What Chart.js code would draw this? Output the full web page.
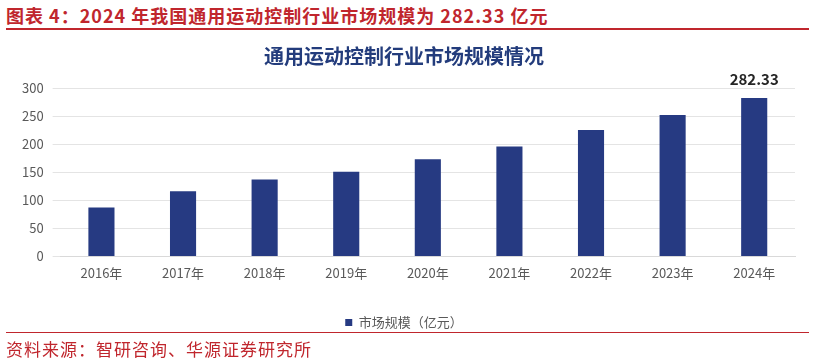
<!DOCTYPE html>
<html>
<head>
<meta charset="utf-8">
<script src="https://cdn.jsdelivr.net/npm/chart.js@4/dist/chart.umd.min.js"></script>
<style>
  html, body { margin: 0; padding: 0; background: #fff; }
  body { width: 815px; height: 361px; position: relative; overflow: hidden;
         font-family: "Noto Sans CJK SC", "Noto Sans", sans-serif; }
  #head { position: absolute; left: 6px; top: 2px; color: #c0262d; font-size: 18px;
          font-weight: bold; letter-spacing: 1px; white-space: nowrap; }
  #rule-top { position: absolute; left: 6px; right: 6px; top: 28px; height: 2px; background: #c0262d; }
  #rule-bot { position: absolute; left: 6px; right: 6px; top: 332px; height: 1px; background: #c0262d; }
  #foot { position: absolute; left: 6px; top: 336px; color: #c0262d; font-size: 17px;
          letter-spacing: 1px; white-space: nowrap; }
  #wrap { position: absolute; left: 0; top: 32px; width: 815px; height: 307px; }
</style>
</head>
<body>
<div id="head">图表 4：2024 年我国通用运动控制行业市场规模为 282.33 亿元</div>
<div id="rule-top"></div>
<div id="wrap"><canvas id="chart"></canvas></div>
<div id="rule-bot"></div>
<div id="foot">资料来源：智研咨询、华源证券研究所</div>

<script>
/* ── data ── */
const YEARS  = ["2016年", "2017年", "2018年", "2019年", "2020年", "2021年", "2022年", "2023年", "2024年"];
const MARKET = [87, 116, 137, 151, 173, 196, 225, 252, 282.33];
const Y_TICKS = [0, 50, 100, 150, 200, 250, 300];

const BAR_COLOR = "#263a82";

Chart.defaults.font.family = "'Noto Sans CJK SC', 'Noto Sans', sans-serif";
Chart.defaults.color = "#595959";

/* label only the last bar */
const lastLabel = {
  id: "lastLabel",
  afterDatasetsDraw(chart) {
    const meta = chart.getDatasetMeta(0);
    const i = MARKET.length - 1;
    const bar = meta.data[i];
    const ctx = chart.ctx;
    ctx.save();
    ctx.font = "bold 15px 'Noto Sans CJK SC', sans-serif";
    ctx.fillStyle = "#262626";
    ctx.textAlign = "center";
    ctx.textBaseline = "bottom";
    ctx.fillText(MARKET[i].toFixed(2), bar.x, bar.y - 11);
    ctx.restore();
  },
};

new Chart(document.getElementById("chart"), {
  type: "bar",
  data: {
    labels: YEARS,
    datasets: [{
      label: "市场规模（亿元）",
      data: MARKET,
      backgroundColor: BAR_COLOR,
      categoryPercentage: 1,
      barPercentage: 0.32,
    }],
  },
  options: {
    responsive: true,
    maintainAspectRatio: false,
    animation: false,
    layout: { padding: { left: 13, right: 20, top: 0, bottom: 0 } },
    plugins: {
      title: {
        display: true,
        text: "通用运动控制行业市场规模情况",
        color: "#233c7c",
        font: { size: 20, weight: "bold" },
        padding: { top: 12, bottom: 20 },
      },
      legend: {
        position: "bottom",
        labels: { boxWidth: 7, boxHeight: 7, padding: 3, font: { size: 13 }, color: "#595959" },
      },
      tooltip: { enabled: false },
    },
    scales: {
      x: {
        grid: { display: false, drawTicks: false },
        border: { display: true, color: "#d9d9d9" },
        ticks: { font: { size: 13 }, padding: 9 },
        afterFit: axis => { axis.height += 23; },
      },
      y: {
        min: 0, max: 300,
        afterBuildTicks: axis => { axis.ticks = Y_TICKS.map(v => ({ value: v })); },
        grid: { color: "#e4e4e4" },
        border: { display: false },
        ticks: { font: { size: 13 }, padding: 9 },
      },
    },
  },
  plugins: [lastLabel],
});
</script>
</body>
</html>
